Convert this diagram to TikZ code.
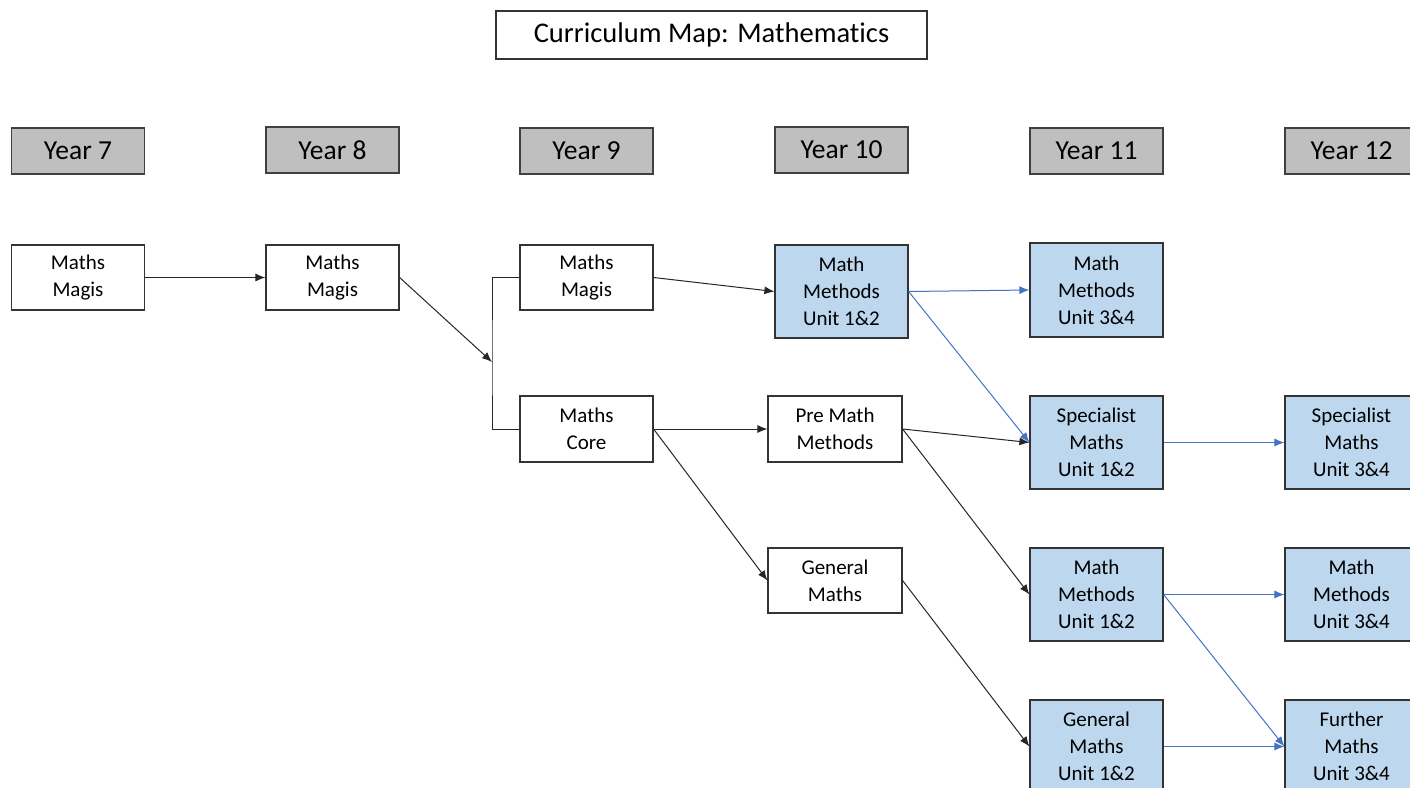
\documentclass[tikz,border=0pt]{standalone}
\usepackage{fontspec}
\setmainfont[Ligatures=NoCommon]{Carlito}
\usepackage{xcolor}
\usetikzlibrary{arrows.meta}

\definecolor{hdrgrey}{RGB}{191,191,191}
\definecolor{unitblue}{RGB}{189,215,238}
\definecolor{linkblue}{RGB}{68,114,196}

\begin{document}
\begin{tikzpicture}[x=1pt, y=-1pt,
  yearbox/.style={draw=black!75, line width=1.2pt, fill=hdrgrey, minimum width=133, minimum height=46, inner sep=0, font=\fontsize{27.5}{30}\selectfont},
  subj/.style={draw=black!80, line width=1.2pt, fill=white, minimum width=133, minimum height=65, inner sep=0, align=center, font=\fontsize{21}{27}\selectfont},
  vce/.style={subj, fill=unitblue, minimum height=93},
  link/.style={line width=1pt, black!85, -{Latex[length=10pt, width=8pt]}},
  vcelink/.style={link, linkblue}]
  % page frame
  \clip (0,0) rectangle (1410,787);
  \fill[white] (0,0) rectangle (1410,787);

  % title
  \node[draw=black!80, line width=1.2pt, minimum width=431, minimum height=48, font=\fontsize{28.5}{30}\selectfont] (title) at (711.5,35) {Curriculum Map: Mathematics};

  % year headings
  \node[yearbox] (yr7) at (78,151) {Year 7};
  \node[yearbox] (yr8) at (332.5,150) {Year 8};
  \node[yearbox] (yr9) at (586.5,151) {Year 9};
  \node[yearbox] (yr10) at (841.5,150) {Year 10};
  \node[yearbox] (yr11) at (1096.5,151) {Year 11};
  \node[yearbox] (yr12) at (1351.5,151) {Year 12};

  % years 7 to 10
  \node[subj] (magisA) at (78,277.5) {Maths\\Magis};
  \node[subj] (magisB) at (332.5,277.5) {Maths\\Magis};
  \node[subj] (magisC) at (586.5,277.5) {Maths\\Magis};
  \node[subj, minimum height=66] (core) at (586.5,429) {Maths\\Core};
  \node[vce] (methA) at (841.5,291.5) {Math\\Methods\\Unit 1\&2};
  \node[subj, minimum width=134, minimum height=66] (premeth) at (835,429) {Pre Math\\Methods};
  \node[subj, minimum width=134] (genA) at (835,580.5) {General\\Maths};

  % years 11 and 12
  \node[vce, minimum height=94] (methB) at (1096.5,290) {Math\\Methods\\Unit 3\&4};
  \node[vce] (specA) at (1096.5,442.5) {Specialist\\Maths\\Unit 1\&2};
  \node[vce] (methC) at (1096.5,594.5) {Math\\Methods\\Unit 1\&2};
  \node[vce] (genB) at (1096.5,746.5) {General\\Maths\\Unit 1\&2};
  \node[vce] (specB) at (1351.5,442.5) {Specialist\\Maths\\Unit 3\&4};
  \node[vce] (methD) at (1351.5,594.5) {Math\\Methods\\Unit 3\&4};
  \node[vce] (further) at (1351.5,746.5) {Further\\Maths\\Unit 3\&4};

  % pathways
  \coordinate (split) at (492,362);
  \draw[link] (magisA.east) -- (magisB.west);
  \draw[link] (magisB.east) -- (split);
  \draw[line width=1pt, black!85] (magisC.west) -| (split) |- (core.west);
  \draw[link] (magisC.east) -- (methA.west);
  \draw[link] (core.east) -- (premeth.west);
  \draw[link] (core.east) -- (genA.west);
  \draw[vcelink] (methA.east) -- (methB.west);
  \draw[vcelink] (methA.east) -- (specA.west);
  \draw[link] (premeth.east) -- (specA.west);
  \draw[link] (premeth.east) -- (methC.west);
  \draw[link] (genA.east) -- (genB.west);
  \draw[vcelink] (specA.east) -- (specB.west);
  \draw[vcelink] (methC.east) -- (methD.west);
  \draw[vcelink] (methC.east) -- (further.west);
  \draw[vcelink] (genB.east) -- (further.west);
\end{tikzpicture}
\end{document}
